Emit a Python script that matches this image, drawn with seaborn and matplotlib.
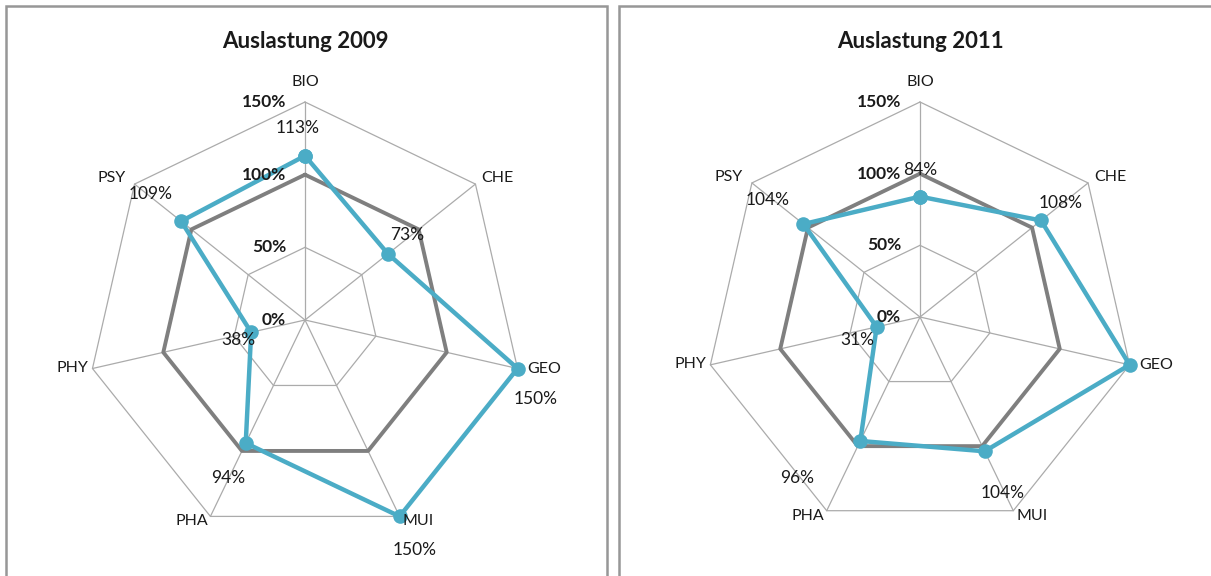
import numpy as np
import pandas as pd
import matplotlib
matplotlib.use("Agg")
import matplotlib.pyplot as plt
import seaborn as sns
from matplotlib.patches import Rectangle

# --- data -----------------------------------------------------------------
categories = ["BIO", "CHE", "GEO", "MUI", "PHA", "PHY", "PSY"]
auslastung_2009 = [113, 73, 150, 150, 94, 38, 109]
auslastung_2011 = [84, 108, 150, 104, 96, 31, 104]
soll = [100, 100, 100, 100, 100, 100, 100]
ring_levels = [0, 50, 100, 150]
ring_labels = ["0%", "50%", "100%", "150%"]
titles = ["Auslastung 2009", "Auslastung 2011"]

# --- styling ----------------------------------------------------------------
sns.set_theme(style="white")
plt.rcParams["font.family"] = ["Lato", "DejaVu Sans"]

BLUE = "#4BACC6"
GREY = "#7F7F7F"
GRID = "#ABABAB"
FS_CAT = 11.5
FS_VAL = 12.5
FS_AXIS = 12.5
FS_TITLE = 16

W, H = 1211, 576
fig = plt.figure(figsize=(W / 100, H / 100), dpi=100)
fig.patch.set_facecolor("white")


def px_rect(cx, cy, r):
    """Axes rectangle (figure fraction) for a square centred at pixel cx, cy."""
    return [(cx - r) / W, (H - cy - r) / H, 2 * r / W, 2 * r / H]


# category label placement next to the outer vertex: offset (px) and alignment
cat_pos = {
    "BIO": ((0, 20), "center"),
    "CHE": ((6, 6), "left"),
    "GEO": ((10, 0), "left"),
    "MUI": ((3, -5), "left"),
    "PHA": ((-2, -5), "right"),
    "PHY": ((-4, 1), "right"),
    "PSY": ((-9, 6), "right"),
}

# value label offsets (px) from each point; None = label not shown
value_offsets = [
    [(-7, 28), (19, 19), (18, -30), (15, -34), (-18, -35), (-13, -8), (-31, 27)],
    [(0, 27), (20, 17), None, (18, -42), (-63, -37), (-19, -13), (-36, 24)],
]

panels = [
    dict(center=(305, 320), radius=218, values=auslastung_2009, title_xy=(305, 42)),
    dict(center=(920, 317), radius=215, values=auslastung_2011, title_xy=(920, 42)),
]

n = len(categories)
theta = np.arange(n) * 2 * np.pi / n
theta_closed = np.append(theta, 2 * np.pi)

for i, p in enumerate(panels):
    ax = fig.add_axes(px_rect(*p["center"], p["radius"]), projection="polar")
    ax.set_theta_zero_location("N")
    ax.set_theta_direction(-1)
    ax.set_ylim(0, 150)
    ax.grid(False)
    ax.set_xticks([])
    ax.set_yticks([])
    ax.spines["polar"].set_visible(False)
    ax.patch.set_alpha(0)

    # heptagonal grid rings and spokes
    for lvl in ring_levels[1:]:
        ax.plot(theta_closed, [lvl] * (n + 1), color=GRID, lw=0.9, zorder=1)
    for t in theta:
        ax.plot([t, t], [0, 150], color=GRID, lw=0.9, zorder=1)

    # 100 % reference polygon
    ref = pd.DataFrame({"theta": theta_closed, "wert": soll + soll[:1]})
    sns.lineplot(data=ref, x="theta", y="wert", sort=False, estimator=None,
                 color=GREY, lw=2.8, ax=ax, zorder=2)

    # actual utilisation
    vals = p["values"]
    df = pd.DataFrame({"theta": theta_closed, "wert": vals + vals[:1]})
    sns.lineplot(data=df, x="theta", y="wert", sort=False, estimator=None,
                 color=BLUE, lw=3.2, marker="o", markersize=10.5,
                 markeredgewidth=0, ax=ax, zorder=3)
    for line in ax.lines:
        line.set_clip_on(False)
    ax.set_xlabel("")
    ax.set_ylabel("")
    ax.set_ylim(0, 150)

    # radial scale labels along the top spoke
    for lvl, lab in zip(ring_levels, ring_labels):
        ax.annotate(lab, xy=(0, lvl), xytext=(-19, 0), textcoords="offset pixels",
                    ha="right", va="center", fontsize=FS_AXIS, fontweight="bold",
                    color="#1a1a1a", zorder=5, annotation_clip=False)

    # category labels
    for t, cat in zip(theta, categories):
        (dx, dy), ha = cat_pos[cat]
        ax.annotate(cat, xy=(t, 150), xytext=(dx, dy), textcoords="offset pixels",
                    ha=ha, va="center", fontsize=FS_CAT, color="#1a1a1a",
                    annotation_clip=False)

    # value labels
    for t, v, off in zip(theta, vals, value_offsets[i]):
        if off is None:
            continue
        ax.annotate(f"{v}%", xy=(t, v), xytext=off, textcoords="offset pixels",
                    ha="center", va="center", fontsize=FS_VAL, color="#1a1a1a",
                    zorder=6, annotation_clip=False)

    # chart title
    tx, ty = p["title_xy"]
    fig.text(tx / W, 1 - ty / H, titles[i], ha="center", va="center",
             fontsize=FS_TITLE, fontweight="bold", color="#1a1a1a")

# panel frames
for x0, x1 in [(5.5, 606.5), (618.5, 1220)]:
    fig.add_artist(Rectangle((x0 / W, -0.1), (x1 - x0) / W, 1.1 - 5.5 / H,
                             transform=fig.transFigure, fill=False,
                             edgecolor="#979797", lw=1.8, clip_on=False))

fig.savefig("out.png", dpi=100, facecolor="white")
